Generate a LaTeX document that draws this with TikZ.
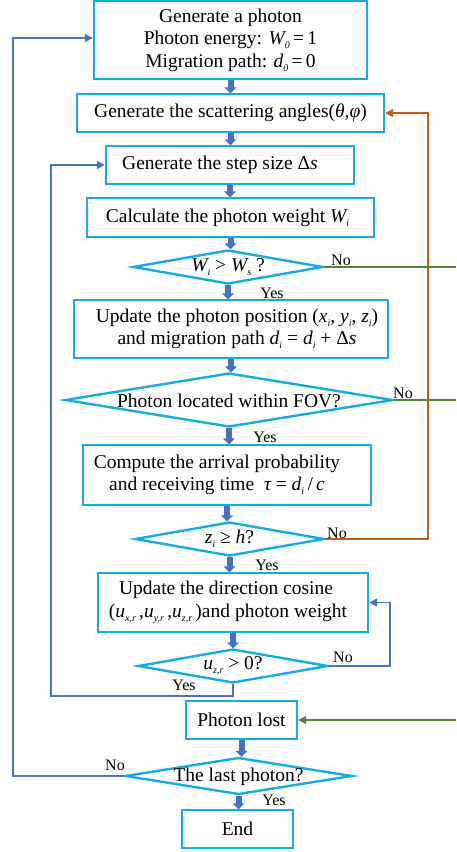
\documentclass[tikz,border=0pt]{standalone}
\usepackage{fontspec}
\setmainfont{Liberation Serif}
\usetikzlibrary{arrows.meta,shapes.geometric}
\definecolor{boxc}{RGB}{20,172,232}
\definecolor{barrow}{RGB}{68,114,196}
\definecolor{bline}{RGB}{72,116,190}
\definecolor{sline}{RGB}{70,120,175}
\definecolor{oline}{RGB}{197,90,17}
\definecolor{gline}{RGB}{84,130,53}
\newcommand\vi[1]{{\itshape #1}}
\newcommand\sub[1]{\raisebox{-4pt}{\fontsize{10}{10}\selectfont\itshape #1}}
\newcommand\padR[1]{\rule{#1}{0pt}}
\tikzset{
  stepbox/.style={draw=boxc, line width=2.4pt, rectangle, inner sep=0pt, align=center,
    font=\fontsize{19.5}{22.5}\selectfont},
  decision/.style={draw=boxc, line width=2.4pt, diamond, inner sep=0pt},
  dtext/.style={font=\fontsize{19.5}{22.5}\selectfont},
  flowarrow/.style={draw=barrow, line width=6pt, -{Triangle[width=12pt,length=6pt]}, shorten >=-0.5pt},
  loopline/.style={line width=1.5pt, -{Triangle[width=8pt,length=8pt]}},
  plainline/.style={line width=1.5pt},
  tag/.style={font=\fontsize{16}{18}\selectfont, inner sep=0pt}
}
\begin{document}
\begin{tikzpicture}[x=1pt,y=-1pt]
\useasboundingbox (0,0) rectangle (456,852);
% boxes
\node[stepbox, minimum width=273pt, minimum height=78pt] (b1) at (230.5,40)
  {Generate a photon\\Photon energy: \vi{W}\sub{0}\,=\,1\\Migration path: \vi{d}\sub{0}\,=\,0};
\node[stepbox, minimum width=307pt, minimum height=38pt] (b2) at (230.5,113)
  {Generate the scattering angles(\vi{θ},\vi{φ})};
\node[stepbox, minimum width=248pt, minimum height=38pt] (b3) at (230,165)
  {Generate the step size Δ\vi{s}\padR{20pt}};
\node[stepbox, minimum width=287pt, minimum height=39pt] (b4) at (230.5,217.5)
  {Calculate the photon weight \vi{W}\sub{i}\padR{6pt}};
\node[decision, minimum width=190pt, minimum height=34pt] (d1) at (228,267) {};
\node[dtext] (t1) at (d1.center) {\vi{W}\sub{i} > \vi{W}\sub{s} ?};
\node[stepbox, minimum width=314pt, minimum height=58pt] (b5) at (231,329)
  {\padR{12pt}Update the photon position (\vi{x}\sub{i}, \vi{y}\sub{i}, \vi{z}\sub{i})\\\padR{12pt}and migration path \vi{d}\sub{i} = \vi{d}\sub{i} + Δ\vi{s}};
\node[decision, minimum width=328pt, minimum height=54pt] (d2) at (229,400) {};
\node[dtext] (t2) at ([yshift=-1pt]d2.center) {Photon located within FOV?};
\node[stepbox, minimum width=288pt, minimum height=60pt] (b6) at (227,475)
  {Compute the arrival probability\padR{20pt}\\and receiving time \ \vi{τ} = \vi{d}\sub{i}\,/\,\vi{c}\padR{20pt}};
\node[decision, minimum width=189pt, minimum height=34pt] (d3) at (229.5,539) {};
\node[dtext] (t3) at (d3.center) {\vi{z}\sub{i} ≥ \vi{h}?};
\node[stepbox, minimum width=270pt, minimum height=59pt] (b7) at (233,602.5)
  {Update the direction cosine\padR{14pt}\\(\vi{u}\sub{x,r}\,,\vi{u}\sub{y,r}\,,\vi{u}\sub{z,r}\,)and photon weight\padR{10pt}};
\node[decision, minimum width=190pt, minimum height=34pt] (d4) at (233,666) {};
\node[dtext] (t4) at (d4.center) {\vi{u}\sub{z,r} > 0?};
\node[stepbox, minimum width=111pt, minimum height=38pt] (b8) at (241.5,720) {Photon lost};
\node[decision, minimum width=227pt, minimum height=37pt] (d5) at (238.5,776) {};
\node[dtext] (t5) at ([yshift=-1pt]d5.center) {The last photon?};
\node[stepbox, minimum width=111pt, minimum height=38pt] (b9) at (237.5,829) {End};
% main flow arrows
\draw[flowarrow] (b1.south) -- (b1.south |- b2.north);
\draw[flowarrow] (b2.south) -- (b2.south |- b3.north);
\draw[flowarrow] (b3.south) -- (b3.south |- b4.north);
\draw[flowarrow] (b4.south) -- (b4.south |- d1.north);
\draw[flowarrow] (d1.south) -- (d1.south |- b5.north);
\draw[flowarrow] (b5.south) -- (b5.south |- d2.north);
\draw[flowarrow] (d2.south) -- (d2.south |- b6.north);
\draw[flowarrow] (b6.south) -- (b6.south |- d3.north);
\draw[flowarrow] (d3.south) -- (d3.south |- b7.north);
\draw[flowarrow] (b7.south) -- (b7.south |- d4.north);
\draw[flowarrow] (b8.south) -- (b8.south |- d5.north);
\draw[flowarrow] (d5.south) -- (d5.south |- b9.north);
% helper coordinates
\coordinate (gR) at (456,0);
\coordinate (oR) at (428,0);
\coordinate (uR) at (390,0);
\coordinate (yB) at (0,696);
\coordinate (xL) at (51,0);
\coordinate (xLL) at (13,0);
% loops
\draw[loopline, draw=oline] (d3.east) -- (d3.east -| oR) |- (b2.east);
\draw[plainline, draw=gline] (d1.east) -- (d1.east -| gR);
\draw[plainline, draw=gline] (d2.east) -- (d2.east -| gR);
\draw[loopline, draw=gline] (b8.east -| gR) -- (b8.east);
\draw[loopline, draw=bline] (d4.east) -- (d4.east -| uR) |- (b7.east);
\draw[loopline, draw=sline] (d4.south) -- (d4.south |- yB) -- (xL |- yB) -- (xL |- b3.west) -- (b3.west);
\draw[loopline, draw=bline] (d5.west) -- (d5.west -| xLL) -- (xLL |- 0,38) -- ([yshift=2pt]b1.west);
% labels
\node[tag] (n1) at (341,260) {No};
\node[tag] (y1) at (272,293) {Yes};
\node[tag] (n2) at (403,393) {No};
\node[tag] (y2) at (265,437) {Yes};
\node[tag] (n3) at (337,533) {No};
\node[tag] (y3) at (267,565) {Yes};
\node[tag] (n4) at (343,657) {No};
\node[tag] (y4) at (184,685) {Yes};
\node[tag] (n5) at (115,765) {No};
\node[tag] (y5) at (274,800) {Yes};
\end{tikzpicture}
\end{document}
